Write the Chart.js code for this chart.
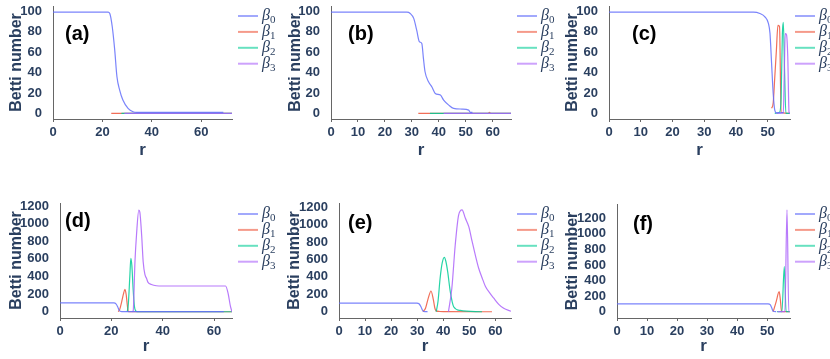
<!DOCTYPE html>
<html>
<head>
<meta charset="utf-8">
<script src="https://cdn.jsdelivr.net/npm/chart.js@4.4.1/dist/chart.umd.min.js"></script>
<style>
  html, body { margin: 0; padding: 0; background: #fff; }
  #wrap { position: relative; width: 830px; height: 359px; overflow: hidden; }
  canvas { position: absolute; }
</style>
</head>
<body>
<div id="wrap"></div>
<script>
// series labels + tick labels
const seriesNames = ['β0', 'β1', 'β2', 'β3'];
const yTicks100 = [0, 20, 40, 60, 80, 100];
const yTicks1200 = [0, 200, 400, 600, 800, 1000, 1200];
const xTicks20 = [0, 20, 40, 60];
const xTicks10 = [0, 10, 20, 30, 40, 50, 60];
const xTicks10c = [0, 10, 20, 30, 40, 50];

// (a)
const rA0 = [0, 22.3, 23, 24, 25, 25.9, 27, 28.3, 30.4, 32.4, 34, 69];
const bA0 = [99, 99, 97.7, 84.7, 61.9, 35.8, 22.8, 13, 4.9, 1.6, 1, 1];
const rA1 = [23.6, 72.5], bA1 = [0, 0];
const rA2 = [27.7, 72.5], bA2 = [0, 0];
const rA3 = [28.9, 72.5], bA3 = [0, 0];

// (b)
const rB0 = [0, 28.2, 29.4, 30.7, 31.8, 32.8, 33.7, 34.3, 34.9, 36.2, 37.4, 38.7, 40.6, 41.8, 43.7, 45.5, 48.6, 51.1, 51.7, 52.5];
const bB0 = [99, 99, 97.7, 92.9, 81.4, 70, 68.4, 53.8, 40.7, 30.9, 26, 19.5, 17.9, 13, 8.1, 4.9, 4.2, 3.2, 1, 1];
const rB1 = [32.4, 58.3, 58.8, 59.3, 66.8], bB1 = [0, 0, 1, 0, 0];
const rB2 = [36.7, 66.8], bB2 = [0, 0];
const rB3 = [41.8, 66.8], bB3 = [0, 0];

// (c)
const rC0 = [0, 45.5, 47.5, 49.1, 50.2, 50.7, 51.2, 51.7, 52.2, 52.7, 55];
const bC0 = [99, 99, 97.7, 94.4, 88, 78.2, 48.9, 19.6, 3.2, 0.6, 0.5];
const rC1 = [51.2, 51.7, 52.2, 52.7, 53.2, 53.7, 54.2, 57];
const bC1 = [5, 10, 35, 61, 86, 85, 1, 0];
const rC2 = [52.2, 53.7, 54.2, 54.6, 54.9, 55.3, 55.7, 57];
const bC2 = [0, 1, 15, 78, 89, 40, 0, 0];
const rC3 = [52.7, 54.9, 55.2, 55.5, 55.9, 56.3, 56.7, 57];
const bC3 = [0, 1, 40, 78, 77, 55, 1, 0];

// (d)
const rD0 = [0, 21, 21.8, 22.5, 23.1, 24, 63.8];
const bD0 = [100, 100, 90, 55, 12, 2, 1];
const rD1 = [22.7, 23.3, 24, 24.7, 25.3, 25.8, 26.2, 26.6, 27, 67];
const bD1 = [0, 30, 110, 200, 254, 190, 80, 5, 0, 0];
const rD2 = [26.2, 26.6, 27.2, 27.6, 28, 28.5, 29, 29.5, 30, 67];
const bD2 = [0, 80, 400, 606, 520, 250, 60, 10, 0, 0];
const rD3 = [28, 28.5, 29.2, 29.8, 30.7, 31.1, 31.8, 32.4, 33.1, 33.7, 34.3, 35.6, 37.5, 40, 64.5, 65.5, 66.4, 67];
const bD3 = [0, 10, 568, 871, 1154, 1130, 871, 568, 420, 379, 333, 310, 295, 292, 292, 205, 60, 0];

// (e)
const rE0 = [0, 29.9, 30.7, 31.4, 32, 32.5, 34];
const bE0 = [100, 100, 92, 60, 20, 3, 0];
const rE1 = [32.2, 33.2, 34.2, 35.3, 36.2, 36.8, 37.3, 38.5, 40, 58.7];
const bE1 = [0, 40, 150, 238, 140, 40, 10, 3, 1, 0];
const rE2 = [37.3, 38, 38.8, 39.6, 40.4, 41, 41.7, 42.7, 44, 46.5, 54.9];
const bE2 = [0, 120, 384, 560, 625, 580, 460, 230, 57, 15, 0];
const rE3 = [42, 43.3, 44.6, 45.9, 47.2, 48.5, 49.8, 51.1, 52.4, 53.6, 54.9, 56.2, 58.1, 59.4, 61.3, 63.2, 66];
const bE3 = [0, 269, 766, 1111, 1170, 1073, 977, 805, 640, 500, 390, 290, 205, 155, 85, 40, 5];

// (f)
const rF0 = [0, 50.3, 51, 51.5, 52, 53];
const bF0 = [100, 100, 90, 50, 5, 0];
const rF1 = [52, 53, 54, 54.4, 54.8, 57.5];
const bF1 = [0, 130, 257, 150, 0, 0];
const rF2 = [53.3, 54.9, 55.7, 56.3, 57.5];
const bF2 = [0, 0, 578, 0, 0];
const rF3 = [53.5, 55.9, 56.6, 57.2, 57.5];
const bF3 = [0, 0, 1310, 0, 0];

const colors = ['rgba(99,110,250,0.85)', 'rgba(239,85,59,0.85)', 'rgba(0,204,150,0.85)', 'rgba(171,99,250,0.85)'];
const drawOrder = [0, 3, 2, 1]; // beta0 on top, beta1 at the bottom
const ink = '#2a3f5f';

// page layout (absolute px): L/R/T/B = plot area edges
const panels = [
  { tag: '(a)', left: 0,   top: 0,   w: 279, h: 178, L: 53,  R: 232, T: 6,   B: 119, xH: 41.5, xMax: 72.5, yMin: -5.5, yMax: 105,  xTicks: xTicks20,  yTicks: yTicks100,  tagPos: [65, 34.5], legGap: 6, legTop: 10,
    series: [[rA0, bA0], [rA1, bA1], [rA2, bA2], [rA3, bA3]] },
  { tag: '(b)', left: 279, top: 0,   w: 277, h: 178, L: 331, R: 511, T: 6,   B: 119, xH: 41.5, xMax: 66.8, yMin: -5.5, yMax: 105,  xTicks: xTicks10,  yTicks: yTicks100,  tagPos: [348, 34.5], legGap: 6, legTop: 10,
    series: [[rB0, bB0], [rB1, bB1], [rB2, bB2], [rB3, bB3]] },
  { tag: '(c)', left: 556, top: 0,   w: 274, h: 178, L: 609, R: 790, T: 6,   B: 119, xH: 41.5, xMax: 57,   yMin: -5.5, yMax: 105,  xTicks: xTicks10c, yTicks: yTicks100,  tagPos: [632, 34.5], legGap: 5, legTop: 10,
    series: [[rC0, bC0], [rC1, bC1], [rC2, bC2], [rC3, bC3]] },
  { tag: '(d)', left: 0,   top: 185, w: 279, h: 174, L: 60,  R: 232, T: 203, B: 318, xH: 39,   xMax: 67,   yMin: -71,  yMax: 1234, xTicks: xTicks20,  yTicks: yTicks1200, tagPos: [65, 221.5], legGap: 6, legTop: 11,
    series: [[rD0, bD0], [rD1, bD1], [rD2, bD2], [rD3, bD3]] },
  { tag: '(e)', left: 278, top: 185, w: 278, h: 174, L: 339, R: 511, T: 203, B: 318, xH: 39,   xMax: 66,   yMin: -72,  yMax: 1249, xTicks: xTicks10,  yTicks: yTicks1200, tagPos: [348, 223],  legGap: 6, legTop: 11,
    series: [[rE0, bE0], [rE1, bE1], [rE2, bE2], [rE3, bE3]] },
  { tag: '(f)', left: 556, top: 185, w: 274, h: 174, L: 617, R: 790, T: 204, B: 318, xH: 39,   xMax: 57.6, yMin: -81,  yMax: 1384, xTicks: xTicks10c, yTicks: yTicks1200, tagPos: [633, 224],  legGap: 5, legTop: 10,
    series: [[rF0, bF0], [rF1, bF1], [rF2, bF2], [rF3, bF3]] }
];

function toPoints(r, v) {
  return r.map((x, i) => ({ x: x, y: v[i] }));
}

function drawLegend(chart, p) {
  const ctx = chart.ctx;
  const a = chart.chartArea;
  ctx.save();
  chart.data.datasets.forEach((ds, i) => {
    const y = a.top + p.legTop + i * 15.9;
    const x0 = a.right + p.legGap;
    ctx.globalAlpha = 0.7;
    ctx.strokeStyle = ds.borderColor;
    ctx.lineWidth = 2;
    ctx.beginPath();
    ctx.moveTo(x0, y);
    ctx.lineTo(x0 + 20, y);
    ctx.stroke();
    ctx.globalAlpha = 1;
    ctx.fillStyle = ink;
    ctx.textAlign = 'left';
    ctx.textBaseline = 'middle';
    ctx.font = 'italic 16px "Liberation Serif"';
    ctx.fillText(ds.label.charAt(0), x0 + 24, y);
    const bw = ctx.measureText(ds.label.charAt(0)).width;
    ctx.font = '11px "Liberation Serif"';
    ctx.fillText(ds.label.slice(1), x0 + 24 + bw, y + 4);
  });
  ctx.restore();
}

function drawTag(chart, p) {
  const ctx = chart.ctx;
  ctx.save();
  ctx.fillStyle = '#000';
  ctx.font = 'bold 20px "Liberation Sans"';
  ctx.textAlign = 'left';
  ctx.textBaseline = 'middle';
  ctx.fillText(p.tag, p.tagPos[0] - p.left, p.tagPos[1] - p.top);
  ctx.restore();
}

const wrap = document.getElementById('wrap');

panels.forEach(p => {
  const cv = document.createElement('canvas');
  cv.width = p.w;
  cv.height = p.h;
  cv.style.left = p.left + 'px';
  cv.style.top = p.top + 'px';
  wrap.appendChild(cv);

  const tickFont = { family: 'Liberation Sans', size: 13, weight: 'bold' };

  new Chart(cv, {
    type: 'line',
    data: {
      datasets: p.series.map((s, i) => ({
        label: seriesNames[i],
        data: toPoints(s[0], s[1]),
        borderColor: colors[i],
        borderWidth: 1.2,
        pointRadius: 0,
        fill: false,
        cubicInterpolationMode: 'monotone',
        order: drawOrder[i]
      }))
    },
    options: {
      responsive: false,
      animation: false,
      devicePixelRatio: 1,
      layout: {
        padding: {
          left: 0,
          top: p.T - p.top,
          right: p.left + p.w - p.R,
          bottom: p.top + p.h - p.B - p.xH
        }
      },
      plugins: { legend: { display: false }, tooltip: { enabled: false } },
      scales: {
        x: {
          type: 'linear',
          min: 0,
          max: p.xMax,
          afterBuildTicks: s => { s.ticks = p.xTicks.map(v => ({ value: v })); },
          afterFit: s => { s.height = p.xH; s.paddingLeft = 0; s.paddingRight = 0; },
          grid: { display: true, drawOnChartArea: false, drawTicks: true, tickLength: 3, color: '#666' },
          border: { display: true, color: '#666', width: 1 },
          ticks: { color: ink, font: tickFont, padding: 3, maxRotation: 0, callback: v => String(v) },
          title: { display: true, text: 'r', color: ink, padding: 0, font: { family: 'Liberation Sans', size: 17, weight: 'bold' } }
        },
        y: {
          min: p.yMin,
          max: p.yMax,
          afterBuildTicks: s => { s.ticks = p.yTicks.map(v => ({ value: v })); },
          afterFit: s => { s.width = p.L - p.left; s.paddingTop = 0; s.paddingBottom = 0; },
          grid: { display: false },
          border: { display: true, color: '#666', width: 1 },
          ticks: { color: ink, font: tickFont, padding: 3, callback: v => String(v) },
          title: { display: true, text: 'Betti number', color: ink, padding: { top: 7, bottom: 0 }, font: { family: 'Liberation Sans', size: 16, weight: 'bold' } }
        }
      }
    },
    plugins: [{
      id: 'deco',
      afterDraw(chart) {
        drawLegend(chart, p);
        drawTag(chart, p);
      }
    }]
  });
});
</script>
</body>
</html>
